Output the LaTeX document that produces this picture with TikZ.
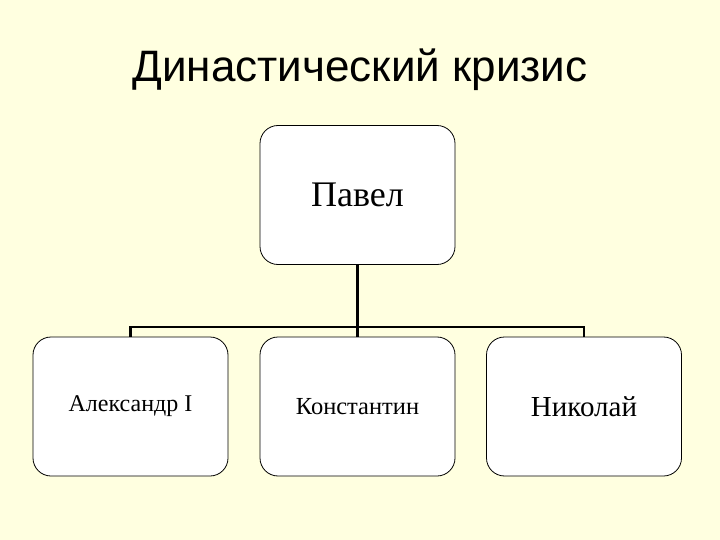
\documentclass[tikz,border=0pt]{standalone}
\usepackage{fontspec}
\setmainfont{Liberation Serif}
\newfontfamily\titlefont{Liberation Sans}
\begin{document}
\begin{tikzpicture}[x=1pt,y=-1pt,
  box/.style={draw=black,fill=white,rounded corners=18pt,minimum width=195pt,minimum height=139pt,line width=0.8pt},
  conn/.style={line width=2.2pt}]
\fill[fill={rgb,255:red,255;green,255;blue,224}] (0,0) rectangle (720,540);
\useasboundingbox (0,0) rectangle (720,540);
\node (title) at (360,70) {\titlefont\fontsize{44}{48}\selectfont Династический кризис};
\node[box] (p) at (357.5,195) {\fontsize{36}{40}\selectfont Павел};
\node[box] (a) at (130.5,406.5) {\fontsize{24}{28}\selectfont Александр I};
\node[box] (k) at (357.5,406.5) {\fontsize{24.5}{28}\selectfont Константин};
\node[box] (n) at (584,406.5) {\fontsize{29}{33}\selectfont Николай};
\coordinate (j) at (357.5,327);
\draw[conn] (p.south) -- (j);
\draw[conn] (a.north) -- (a.north |- j) -- (n.north |- j) -- (n.north);
\draw[conn] (j) -- (k.north);
\end{tikzpicture}
\end{document}
